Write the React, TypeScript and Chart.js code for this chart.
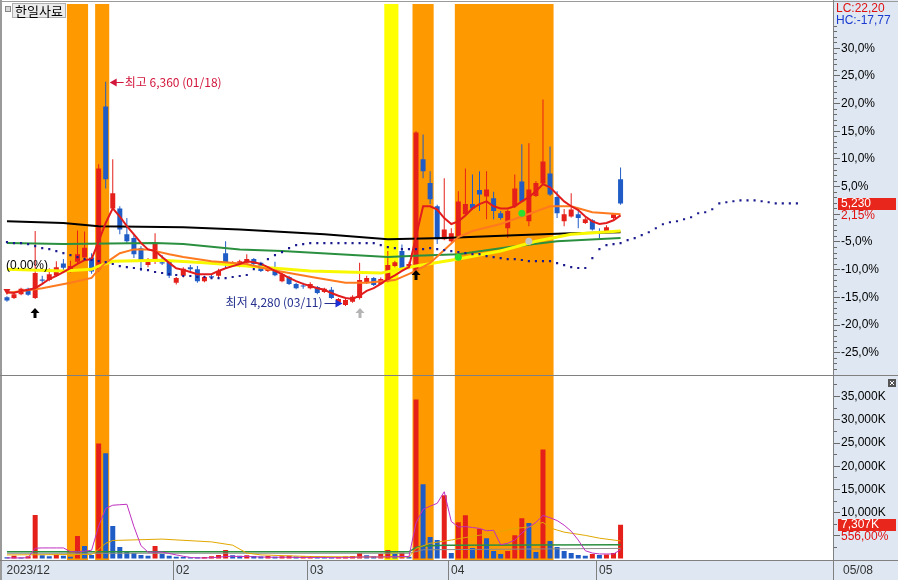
import React, { useEffect, useRef } from 'react';
import { Chart, registerables } from 'chart.js';

Chart.register(...registerables);

// ---------------- data ----------------
const stockName = '한일사료';
const monthLabels = ['2023/12', '02', '03', '04', '05'];
const monthStartIdx = [0, 24, 43, 63, 84];
const lastDateLabel = '05/08';

const opens = [4360,4355,4390,4440,4355,4525,4520,4560,4675,4605,
 4690,4730,4730,4620,6130,5185,5185,4945,4910,4815,
 4660,4705,4685,4695,4495,4560,4640,4620,4510,4555,
 4560,4770,4660,4650,4680,4715,4680,4605,4630,4510,
 4550,4485,4470,4445,4455,4410,4430,4310,4290,4320,
 4355,4495,4540,4485,4510,4650,4790,4635,4605,5640,
 5420,5205,4900,4880,4930,5130,5225,5355,5295,5280,
 5140,5000,5205,5435,5065,5300,5415,5510,5290,5065,
 5110,5130,5050,5075,4960,4965,5095,5455];
const highs = [4370,4400,4450,4450,4975,4560,4630,4695,4715,4700,
 4980,4970,4770,5595,6360,5640,5205,5095,4945,4835,
 4725,4955,4750,4705,4550,4640,4660,4650,4560,4575,
 4625,4880,4695,4710,4760,4725,4690,4650,4690,4590,
 4560,4495,4495,4500,4465,4450,4455,4355,4345,4380,
 4680,4560,4550,4545,4790,4700,4850,4690,5900,5870,
 5530,5220,5465,5000,5345,5555,5500,5530,5530,5340,
 5160,5175,5500,5780,5790,5440,6195,5760,5345,5180,
 5325,5180,5100,5085,5000,5030,5140,5565];
const lows = [4320,4345,4380,4375,4345,4495,4510,4550,4605,4590,
 4670,4720,4580,4600,5370,5180,4945,4865,4725,4605,
 4640,4670,4660,4540,4480,4545,4600,4495,4500,4530,
 4550,4630,4650,4640,4670,4660,4595,4595,4555,4500,
 4475,4435,4440,4435,4390,4400,4345,4300,4280,4310,
 4340,4485,4465,4475,4500,4640,4610,4620,4590,5465,
 5225,4855,4890,4870,4920,5120,5170,5160,5085,5085,
 5080,4910,5190,5240,5020,5290,5400,5300,5095,5020,
 5100,5000,5040,4980,4910,4955,5085,5220];
const closes = [4330,4390,4440,4385,4585,4515,4575,4640,4635,4650,
 4760,4820,4600,5555,5455,5325,4990,4880,4760,4695,
 4695,4865,4675,4560,4540,4625,4620,4510,4550,4545,
 4605,4670,4680,4695,4715,4670,4605,4640,4565,4575,
 4485,4445,4460,4485,4400,4440,4355,4345,4335,4365,
 4520,4540,4475,4530,4660,4685,4620,4670,5890,5530,
 5270,4900,4990,4955,5250,5225,5185,5315,5360,5160,
 5095,5160,5370,5250,5360,5420,5620,5315,5140,5130,
 5175,5095,5085,4990,4950,5010,5130,5230];
// volume in thousands of shares
const volumes = [300,600,250,500,9400,700,500,800,600,400,
 4850,2700,800,24800,22700,7000,2500,1400,1200,800,
 600,2700,1000,600,400,350,300,280,350,500,
 800,1850,700,600,700,550,450,550,400,500,
 600,450,500,550,450,350,300,350,450,550,
 1200,700,500,1000,1850,1000,1250,400,34250,16000,
 4650,4000,13650,1200,7850,9350,2300,6350,4400,1650,
 1000,1650,5050,8700,7650,1400,23500,3800,2500,1650,
 1200,800,600,1000,800,900,1200,7307];

const ma5 = [4410,4400,4420,4430,4445,4485,4530,4560,4595,4630,
 4670,4705,4715,4880,5050,5185,5110,5020,4945,4865,
 4805,4790,4735,4680,4630,4615,4595,4575,4575,4575,
 4605,4630,4650,4670,4695,4685,4670,4640,4605,4575,
 4540,4510,4485,4465,4445,4430,4400,4375,4355,4345,
 4375,4420,4445,4485,4530,4565,4605,4640,4925,5205,
 5205,5175,5095,5040,5065,5120,5185,5225,5250,5205,
 5185,5185,5205,5250,5290,5345,5410,5380,5315,5250,
 5205,5170,5110,5065,5040,5050,5075,5120];
const ma20Idx = [0,5,9,12,13,14,16,18,20,23,25,29,34,37,44,48,51,55,58,60,62,64,66,70,73,77,80,83,87];
const ma20Val = [4400,4445,4495,4540,4620,4680,4770,4805,4805,4760,4735,4695,4670,4620,4540,4495,4495,4520,4605,4680,4800,4920,4975,5040,5110,5205,5205,5150,5130];
const ma60Idx = [0,8,12,13,15,22,28,34,43,53,58,64,70,75,80,87];
const ma60Val = [4620,4605,4620,4650,4695,4705,4680,4650,4605,4585,4650,4715,4790,4880,4945,4975];
const ma120Idx = [0,8,21,25,33,39,54,58,64,71,78,87];
const ma120Val = [4865,4855,4865,4855,4805,4790,4735,4745,4760,4825,4880,4910];
const ma240Idx = [0,8,13,25,33,45,54,62,72,80,87];
const ma240Val = [5065,5050,5020,5010,4990,4945,4900,4910,4935,4955,4965];
const leadSpan = [4872,4863,4863,4854,4835,4817,4807,4789,4770,4752,
 4733,4715,4706,4696,4687,4669,4650,4641,4632,4622,
 4613,4595,4586,4576,4567,4558,4558,4549,4549,4539,
 4539,4539,4549,4558,4567,4622,4669,4715,4752,4780,
 4817,4844,4854,4863,4863,4863,4863,4863,4863,4863,
 4863,4863,4863,4844,4826,4817,4807,4807,4807,4807,
 4817,4807,4798,4789,4780,4770,4761,4761,4743,4733,
 4724,4715,4715,4706,4696,4696,4696,4696,4678,4659,
 4641,4632,4632,4724,4807,4844,4854,4863,4891,4909,
 4937,4964,5001,5038,5057,5066,5085,5103,5140,5149,
 5177,5232,5242,5251,5260,5260,5260,5251,5242,5232,
 5232,5232,5232];

const volMa5 = [150,150,150,200,2250,2300,2300,2300,2300,1500,
 1450,1600,1800,7000,10800,11500,11600,11700,6900,2800,
 1400,1400,1400,1100,800,500,250,150,150,200,
 300,450,500,450,450,400,350,300,300,300,
 300,250,250,250,250,250,200,200,200,250,
 350,350,350,350,400,400,450,450,7700,10600,
 11300,11900,14400,8000,6800,6900,6700,6500,6000,6100,
 3000,3300,4000,5500,6800,7800,9300,8800,8200,7200,
 5900,4000,1700,1200,1000,1000,1000,1900];
const volMa20Idx = [0,12,13,14,15,22,29,32,34,36,43,50,57,58,60,63,66,69,72,74,76,77,79,82,84,87];
const volMa20Val = [800,900,2000,3300,3900,4200,3600,2900,1200,800,450,350,350,2200,3300,4000,4800,5500,6500,6800,7800,6600,5700,5000,4400,3800];
const volMa60Idx = [0,57,58,59,62,87];
const volMa60Val = [1450,1450,2400,2700,2900,3000];
const volMa120Idx = [0,57,59,87];
const volMa120Val = [1150,1150,1900,2200];

const pctTicks = [30, 25, 20, 15, 10, 5, -5, -10, -15, -20, -25];
const volTicks = [35000, 30000, 25000, 20000, 15000, 10000];
const basePrice = 5135;

const orangeBands = [[9, 11], [13, 14], [58, 60], [64, 77]];
const yellowBands = [[54, 55]];

const highIdx = 14;
const lowIdx = 48;
const highText = '최고 6,360 (01/18)';
const lowText = '최저 4,280 (03/11)';
const lastPriceText = '5,230';
const lastPctText = '2,15%';
const lastVolText = '7,307K';
const volPctText = '556,00%';
const lcText = 'LC:22,20';
const hcText = 'HC:-17,77';
const baseText = '(0.00%)';
const baseTextPrice = 4650;

const arrowIdx = [4, 58, 50];
const arrowPrice = [4215, 4567, 4216];
const arrowColors = ['#000000', '#000000', '#b4b4b4'];
const dotIdx = [64, 73, 74];
const dotPrice = [4733, 5140, 4881];
const dotColors = ['#2ee02e', '#2ee02e', '#c4c4c4'];

// ---------------- style / layout ----------------
const RED = '#e5201a';
const BLUE = '#1f5cc6';
const AXIS_BG = '#dfe8f2';
const FONT = '"Liberation Sans", "Noto Sans CJK KR", sans-serif';
const KFONT = '"Noto Sans CJK KR", "Liberation Sans", sans-serif';
const X_MIN = -0.42;
const X_MAX = 117.12;
const P_MIN = 3643;
const P_MAX = 7081;
const V_MIN = -300;
const V_MAX = 39614;

const idxs = opens.map((_, i) => i);
const candleColors = idxs.map((i) => (closes[i] >= opens[i] ? RED : BLUE));
const volColors = idxs.map((i) => (i === 0 ? BLUE : volumes[i] >= volumes[i - 1] ? RED : BLUE));

const pts = (xs: number[], ys: number[]) => xs.map((x, k) => ({ x, y: ys[k] }));

function fmtPct(p: number) {
  return p.toFixed(1).replace('.', ',') + '%';
}
function fmtVol(v: number) {
  return v.toLocaleString('en-US') + 'K';
}

const overlayPlugin = {
  id: 'overlay',
  beforeDraw(chart: any) {
    const { ctx, width, height, chartArea } = chart;
    ctx.save();
    ctx.fillStyle = '#ffffff';
    ctx.fillRect(0, 0, width, height);
    ctx.fillStyle = AXIS_BG;
    ctx.fillRect(chartArea.right, 0, width - chartArea.right, height);
    ctx.fillRect(0, chartArea.bottom, chartArea.right, height - chartArea.bottom);
    ctx.restore();
  },
  beforeDatasetsDraw(chart: any) {
    const { ctx, chartArea } = chart;
    const xs = chart.scales.x;
    ctx.save();
    const fill = (bands: number[][], color: string) => {
      ctx.fillStyle = color;
      bands.forEach(([s, e]) => {
        const x0 = xs.getPixelForValue(s - 0.5);
        const x1 = xs.getPixelForValue(e + 0.5);
        ctx.fillRect(x0, chartArea.top, x1 - x0, chartArea.bottom - chartArea.top);
      });
    };
    fill(orangeBands, '#ff9900');
    fill(yellowBands, '#ffff00');
    ctx.restore();
  },
  afterDatasetsDraw(chart: any) {
    const { ctx } = chart;
    const xs = chart.scales.x;
    const ys = chart.scales.y;
    ctx.save();
    // up arrows
    arrowIdx.forEach((i, k) => {
      const x = Math.round(xs.getPixelForValue(i));
      const y = Math.round(ys.getPixelForValue(arrowPrice[k]));
      ctx.fillStyle = arrowColors[k];
      ctx.beginPath();
      ctx.moveTo(x - 4.5, y);
      ctx.lineTo(x + 4.5, y);
      ctx.lineTo(x, y - 5);
      ctx.closePath();
      ctx.fill();
      ctx.fillRect(x - 1.5, y, 3, 5);
    });
    // circles
    dotIdx.forEach((i, k) => {
      const x = xs.getPixelForValue(i);
      const y = ys.getPixelForValue(dotPrice[k]);
      ctx.fillStyle = dotColors[k];
      ctx.beginPath();
      ctx.arc(x, y, 3.5, 0, Math.PI * 2);
      ctx.fill();
    });
    // start triangle
    {
      const x = xs.getPixelForValue(0);
      const y = ys.getPixelForValue(ma5[0]);
      ctx.fillStyle = '#e02020';
      ctx.beginPath();
      ctx.moveTo(x - 3.5, y - 3);
      ctx.lineTo(x + 3.5, y - 3);
      ctx.lineTo(x, y + 3);
      ctx.closePath();
      ctx.fill();
    }
    // high annotation
    {
      const x = xs.getPixelForValue(highIdx);
      const y = Math.round(ys.getPixelForValue(highs[highIdx])) + 0.5;
      const c = '#d3163c';
      ctx.strokeStyle = c;
      ctx.fillStyle = c;
      ctx.lineWidth = 1;
      ctx.beginPath();
      ctx.moveTo(x + 9, y);
      ctx.lineTo(x + 18, y);
      ctx.stroke();
      ctx.beginPath();
      ctx.moveTo(x + 4, y);
      ctx.lineTo(x + 11, y - 4);
      ctx.lineTo(x + 11, y + 4);
      ctx.closePath();
      ctx.fill();
      ctx.font = '12px ' + KFONT;
      ctx.textBaseline = 'middle';
      ctx.textAlign = 'left';
      ctx.fillText(highText, x + 19, y);
    }
    // low annotation
    {
      const x = xs.getPixelForValue(lowIdx);
      const y = Math.round(ys.getPixelForValue(lows[lowIdx])) - 2.5;
      ctx.strokeStyle = '#26318f';
      ctx.lineWidth = 1;
      ctx.beginPath();
      ctx.moveTo(x - 21, y);
      ctx.lineTo(x - 9, y);
      ctx.stroke();
      ctx.fillStyle = '#1a2fd6';
      ctx.beginPath();
      ctx.moveTo(x - 3, y);
      ctx.lineTo(x - 10, y - 4);
      ctx.lineTo(x - 10, y + 4);
      ctx.closePath();
      ctx.fill();
      ctx.fillStyle = '#26318f';
      ctx.font = '12px ' + KFONT;
      ctx.textBaseline = 'middle';
      ctx.textAlign = 'right';
      ctx.fillText(lowText, x - 23, y - 1);
    }
    // base label
    ctx.fillStyle = '#000';
    ctx.font = '12px ' + FONT;
    ctx.textAlign = 'left';
    ctx.textBaseline = 'middle';
    ctx.fillText(baseText, chart.chartArea.left + 2, ys.getPixelForValue(baseTextPrice));
    ctx.restore();
  },
  afterDraw(chart: any) {
    const { ctx, chartArea, width, height } = chart;
    const xs = chart.scales.x;
    const ys = chart.scales.y;
    const vs = chart.scales.v;
    const R = chartArea.right;
    ctx.save();
    // frame lines
    ctx.strokeStyle = '#9a9a9a';
    ctx.lineWidth = 1;
    ctx.beginPath();
    ctx.moveTo(0.5, 0); ctx.lineTo(0.5, height);
    ctx.moveTo(1.5, 0); ctx.lineTo(1.5, height);
    ctx.moveTo(0, 1.5); ctx.lineTo(width, 1.5);
    ctx.stroke();
    ctx.strokeStyle = '#808080';
    ctx.beginPath();
    ctx.moveTo(0, Math.round(ys.bottom) + 0.5); ctx.lineTo(width, Math.round(ys.bottom) + 0.5);
    ctx.moveTo(0, chartArea.bottom + 0.5); ctx.lineTo(width, chartArea.bottom + 0.5);
    ctx.moveTo(R + 0.5, 0); ctx.lineTo(R + 0.5, height);
    ctx.stroke();

    // date row
    ctx.font = '12px ' + FONT;
    ctx.fillStyle = '#333';
    ctx.textBaseline = 'middle';
    ctx.textAlign = 'left';
    const rowY = (chartArea.bottom + height) / 2 + 1;
    monthStartIdx.forEach((mi, k) => {
      let sx = chartArea.left;
      if (k > 0) {
        sx = Math.round(xs.getPixelForValue(mi - 0.5)) + 0.5;
        ctx.beginPath();
        ctx.moveTo(sx, chartArea.bottom + 1);
        ctx.lineTo(sx, height);
        ctx.stroke();
      }
      ctx.fillText(monthLabels[k], sx + 2.5, rowY);
    });
    ctx.fillText(lastDateLabel, R + 10, rowY);

    // price axis ticks
    ctx.strokeStyle = '#6a6a6a';
    for (let p = -32; p <= 36; p++) {
      const y = Math.round(ys.getPixelForValue(basePrice * (1 + p / 100))) + 0.5;
      if (y < 26 || y > ys.bottom - 2) continue;
      const len = p % 5 === 0 ? 6 : 3;
      ctx.beginPath();
      ctx.moveTo(R + 1, y);
      ctx.lineTo(R + 1 + len, y);
      ctx.stroke();
    }
    ctx.fillStyle = '#000';
    pctTicks.forEach((p) => {
      const y = ys.getPixelForValue(basePrice * (1 + p / 100));
      ctx.fillText(fmtPct(p), R + 8, y + 0.5);
    });
    // volume axis ticks
    for (let v = 0; v <= 40000; v += 2500) {
      const y = Math.round(vs.getPixelForValue(v)) + 0.5;
      if (y < vs.top + 4 || y > vs.bottom - 1) continue;
      const len = v % 5000 === 0 ? 6 : 3;
      ctx.beginPath();
      ctx.moveTo(R + 1, y);
      ctx.lineTo(R + 1 + len, y);
      ctx.stroke();
    }
    volTicks.forEach((v) => {
      ctx.fillText(fmtVol(v), R + 8, vs.getPixelForValue(v) + 0.5);
    });

    // last price box
    const lastY = ys.getPixelForValue(closes[closes.length - 1]);
    ctx.fillStyle = '#e8261b';
    ctx.fillRect(R + 5, Math.round(lastY) - 6, 58, 12);
    ctx.fillStyle = '#ffffff';
    ctx.fillText(lastPriceText, R + 8, lastY + 0.5);
    ctx.fillStyle = '#e01010';
    ctx.fillText(lastPctText, R + 8, lastY + 12);
    const lastVY = vs.getPixelForValue(volumes[volumes.length - 1]);
    ctx.fillStyle = '#e8261b';
    ctx.fillRect(R + 5, Math.round(lastVY) - 6, 58, 12);
    ctx.fillStyle = '#ffffff';
    ctx.fillText(lastVolText, R + 8, lastVY + 0.5);
    ctx.fillStyle = '#e01010';
    ctx.fillText(volPctText, R + 8, lastVY + 12);

    // LC / HC
    ctx.fillStyle = '#e01010';
    ctx.fillText(lcText, R + 3, 9);
    ctx.fillStyle = '#1a3ad0';
    ctx.fillText(hcText, R + 3, 21);

    // close box in volume panel
    const bx = width - 10, by = Math.round(vs.top) + 4;
    ctx.fillStyle = '#555';
    ctx.fillRect(bx, by, 8, 8);
    ctx.strokeStyle = '#fff';
    ctx.beginPath();
    ctx.moveTo(bx + 2, by + 2); ctx.lineTo(bx + 6, by + 6);
    ctx.moveTo(bx + 6, by + 2); ctx.lineTo(bx + 2, by + 6);
    ctx.stroke();

    // name box
    ctx.fillStyle = '#d8d8d8';
    ctx.fillRect(5, 6, 6, 6);
    ctx.strokeStyle = '#888';
    ctx.strokeRect(5.5, 6.5, 5, 5);
    ctx.fillStyle = '#ececec';
    ctx.fillRect(12, 3, 54, 15);
    ctx.strokeStyle = '#b0b0b0';
    ctx.strokeRect(12.5, 3.5, 53, 14);
    ctx.fillStyle = '#000';
    ctx.font = '13px ' + KFONT;
    ctx.fillText(stockName, 15, 11);
    ctx.restore();
  },
};

export default function App() {
  const ref = useRef<HTMLCanvasElement>(null);
  useEffect(() => {
    document.body.style.margin = '0';
    const fixW = (s: any) => { s.width = 65; };
    const hiddenAxis = { ticks: { display: false }, grid: { display: false }, border: { display: false } };
    const chart = new Chart(ref.current as HTMLCanvasElement, {
      type: 'line',
      data: {
        datasets: [
          { type: 'line', yAxisID: 'y', data: pts(idxs.concat(leadSpan.slice(88).map((_, k) => 88 + k)), leadSpan), showLine: false, pointStyle: 'rect', pointRadius: 1.5, pointBorderWidth: 0, pointBackgroundColor: '#1a1a8e', order: 0 },
          { type: 'line', yAxisID: 'y', data: pts(idxs, ma5), borderColor: '#e21c1c', borderWidth: 2, pointRadius: 0, order: 1 },
          { type: 'line', yAxisID: 'y', data: pts(ma20Idx, ma20Val), borderColor: '#ff7a1e', borderWidth: 2, pointRadius: 0, order: 2 },
          { type: 'line', yAxisID: 'y', data: pts(ma60Idx, ma60Val), borderColor: '#f8f800', borderWidth: 3, pointRadius: 0, order: 3 },
          { type: 'line', yAxisID: 'y', data: pts(ma120Idx, ma120Val), borderColor: '#2a9040', borderWidth: 2, pointRadius: 0, order: 4 },
          { type: 'line', yAxisID: 'y', data: pts(ma240Idx, ma240Val), borderColor: '#000000', borderWidth: 2, pointRadius: 0, order: 5 },
          { type: 'bar', yAxisID: 'y', data: idxs.map((i) => ({ x: i, y: [opens[i], closes[i]] })), backgroundColor: candleColors, barThickness: 5, grouped: false, minBarLength: 1, inflateAmount: 0, order: 8 },
          { type: 'bar', yAxisID: 'y', data: idxs.map((i) => ({ x: i, y: [lows[i], highs[i]] })), backgroundColor: candleColors, barThickness: 1, grouped: false, inflateAmount: 0, order: 9 },
          { type: 'line', yAxisID: 'v', data: pts(idxs, volMa5), borderColor: '#c030c0', borderWidth: 1, pointRadius: 0, order: 1 },
          { type: 'line', yAxisID: 'v', data: pts(volMa20Idx, volMa20Val), borderColor: '#e2a800', borderWidth: 1, pointRadius: 0, order: 2 },
          { type: 'line', yAxisID: 'v', data: pts(volMa60Idx, volMa60Val), borderColor: '#2a9040', borderWidth: 1.5, pointRadius: 0, order: 3 },
          { type: 'line', yAxisID: 'v', data: pts(volMa120Idx, volMa120Val), borderColor: '#8c8c8c', borderWidth: 1, pointRadius: 0, order: 4 },
          { type: 'bar', yAxisID: 'v', data: idxs.map((i) => ({ x: i, y: volumes[i] })), backgroundColor: volColors, barThickness: 5, grouped: false, inflateAmount: 0, order: 7 },
        ] as any,
      },
      options: {
        responsive: false,
        animation: false,
        devicePixelRatio: 1,
        events: [],
        layout: { padding: { left: 2, top: 2, right: 0, bottom: 20 } },
        plugins: { legend: { display: false }, tooltip: { enabled: false } },
        scales: {
          x: { type: 'linear', min: X_MIN, max: X_MAX, display: false, offset: false },
          y: { type: 'linear', position: 'right', stack: 'right', stackWeight: 2, min: P_MIN, max: P_MAX, afterFit: fixW, ...hiddenAxis },
          v: { type: 'linear', position: 'right', stack: 'right', stackWeight: 1, min: V_MIN, max: V_MAX, afterFit: fixW, ...hiddenAxis },
        } as any,
      },
      plugins: [overlayPlugin],
    } as any);
    return () => chart.destroy();
  }, []);
  return <canvas ref={ref} width={898} height={580} style={{ display: 'block', width: 898, height: 580 }} />;
}
